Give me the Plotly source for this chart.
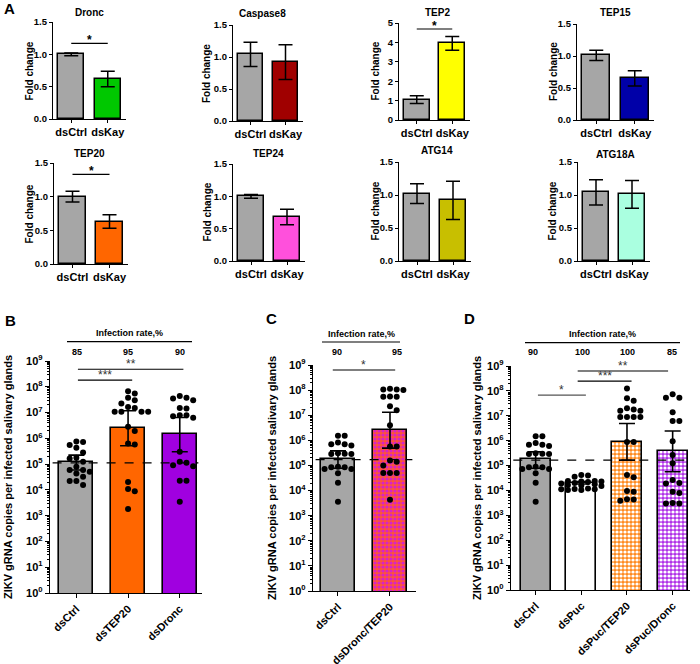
import plotly.graph_objects as go

W, H = 700, 664
def px(x): return x / W
def py(y): return 1 - y / H

FONT = "Arial, Liberation Sans, sans-serif"

# ---------------- Panel A data ----------------
A_genes = ["Dronc", "Caspase8", "TEP2", "TEP15", "TEP20", "TEP24", "ATG14", "ATG18A"]
A_groups = ["dsCtrl", "dsKay"]
A_ctrl = [1.00, 1.04, 1.05, 1.01, 1.00, 1.00, 1.02, 1.04]
A_ctrl_err = [0.02, 0.19, 0.20, 0.08, 0.08, 0.03, 0.15, 0.19]
A_kay = [0.62, 0.92, 3.95, 0.65, 0.63, 0.68, 0.92, 1.01]
A_kay_err = [0.12, 0.27, 0.35, 0.12, 0.10, 0.12, 0.29, 0.21]
A_colors = ["#00c800", "#a00000", "#ffff00", "#0000a8", "#ff6600", "#ff50dc", "#c8bf00", "#aaffe0"]
A_ymax = [1.5, 1.5, 5, 1.5, 1.5, 1.5, 1.5, 1.5]
A_dtick = [0.5, 0.5, 1, 0.5, 0.5, 0.5, 0.5, 0.5]
A_sig = {0: 1.17, 2: 4.69, 4: 1.33}

# ---------------- Panels B-D data (log10 of copies) ----------------
B_groups = ["dsCtrl", "dsTEP20", "dsDronc"]
B_bar = [5.08, 6.40, 6.16]
B_err_hi = [5.35, 7.07, 6.81]
B_err_lo = [4.77, 5.71, 5.48]
B_dots = [
    [5.88, 5.86, 5.74, 5.63, 5.45, 5.25, 5.22, 5.09, 4.90, 4.77, 4.77, 4.70, 4.64, 4.51, 4.34, 4.34, 4.19],
    [7.83, 7.74, 7.57, 7.48, 7.35, 7.22, 7.18, 7.03, 7.03, 7.03, 7.03, 6.45, 6.28, 5.80, 5.76, 4.31, 4.03, 3.95, 3.26],
    [7.57, 7.48, 7.55, 7.64, 7.18, 7.16, 6.90, 6.86, 6.80, 6.90, 5.48, 5.05, 4.92, 4.96, 5.09, 4.35, 4.35, 3.54],
]
B_rate = ["85", "95", "90"]
B_ref = 5.05

C_groups = ["dsCtrl", "dsDronc/TEP20"]
C_bar = [5.25, 6.41]
C_err_hi = [5.58, 7.12]
C_err_lo = [4.89, 5.69]
C_dots = [
    [6.18, 6.18, 5.84, 5.79, 5.84, 5.91, 5.49, 5.46, 5.47, 5.46, 4.93, 4.86, 4.95, 4.86, 4.93, 4.69, 4.31, 3.55],
    [8.02, 8.05, 8.02, 8.00, 7.74, 7.74, 7.75, 7.36, 7.20, 6.60, 5.75, 5.75, 5.20, 5.15, 5.00, 4.70, 4.70, 4.70, 3.63],
]
C_rate = ["90", "95"]
C_ref = 5.23

D_groups = ["dsCtrl", "dsPuc", "dsPuc/TEP20", "dsPuc/Dronc"]
D_bar = [5.25, 4.31, 5.96, 5.58]
D_err_hi = [5.55, 4.36, 6.69, 6.39]
D_err_lo = [4.89, 4.26, 5.22, 4.75]
D_dots = [
    [6.18, 6.18, 5.84, 5.79, 5.84, 5.91, 5.49, 5.46, 5.47, 5.46, 4.93, 4.86, 4.95, 4.86, 4.93, 4.69, 4.31, 3.55],
    [4.62, 4.60, 4.55, 4.38, 4.36, 4.38, 4.36, 4.34, 4.30, 4.28, 4.25, 4.22, 4.20, 4.18, 4.08, 4.06, 4.05, 4.02, 4.02, 4.05],
    [8.10, 7.70, 7.60, 7.30, 7.20, 7.20, 7.25, 6.95, 6.95, 6.95, 6.95, 5.95, 5.95, 4.62, 4.53, 3.98, 3.95, 3.65, 3.59, 3.64],
    [7.86, 7.72, 7.72, 7.14, 6.79, 6.79, 5.98, 5.42, 5.09, 4.42, 4.28, 4.30, 3.95, 3.90, 3.48, 3.48, 3.50],
]
D_rate = ["90", "100", "100", "85"]
D_ref = 5.22

# ---------------- geometry ----------------
A_geo = [(53, 126, 22, 119), (233, 303, 25, 121), (399, 470, 23, 120), (577, 654, 24, 120),
         (54, 128, 163, 264), (233, 305, 164, 261), (399, 471, 162, 261), (578, 650, 162, 261)]
A_title_pos = [(90, 12), (262, 13), (437, 12), (615, 12), (90, 153), (268, 153), (437, 150), (615, 154)]
A_ytitle_x = [29, 206, 375, 553, 29, 207, 375, 552]

fig = go.Figure()
layout = dict(template="none", width=W, height=H, autosize=False,
              margin=dict(l=0, r=0, t=0, b=0, pad=0),
              paper_bgcolor="white", plot_bgcolor="white", showlegend=False,
              font=dict(family=FONT, color="black"))
annotations = []
shapes = []

def ann_paper(text, x, y, size, angle=0, weight="bold", color="black"):
    return dict(text=text, x=px(x), y=py(y), xref="paper", yref="paper", showarrow=False,
                xanchor="center", yanchor="middle", textangle=angle,
                font=dict(size=size, weight=weight, color=color))

def ax_common():
    return dict(showline=True, linecolor="black", linewidth=1.3, showgrid=False, zeroline=False,
                ticks="outside", tickcolor="black", tickwidth=1.2, automargin=False)

for i in range(8):
    n = i + 1
    l, r, t, b = A_geo[i]
    xa = ax_common()
    xa.update(domain=[px(l), px(r)], anchor=f"y{n}", range=[-0.5, 1.5], tickvals=[0, 1],
              ticktext=A_groups, ticklen=3, tickfont=dict(size=11, weight="bold"))
    ya = ax_common()
    ya.update(domain=[py(b), py(t)], anchor=f"x{n}", range=[0, A_ymax[i]], dtick=A_dtick[i],
              tickformat=".1f" if A_dtick[i] < 1 else "d", ticklen=3,
              tickfont=dict(size=9.5, weight="bold"))
    layout[f"xaxis{n}"] = xa
    layout[f"yaxis{n}"] = ya
    fig.add_trace(go.Bar(
        x=[0, 1], y=[A_ctrl[i], A_kay[i]], width=0.72,
        marker=dict(color=["#a6a6a6", A_colors[i]], line=dict(color="black", width=1.5)),
        error_y=dict(type="data", array=[A_ctrl_err[i], A_kay_err[i]], color="black",
                     thickness=1.5, width=7),
        xaxis=f"x{n}", yaxis=f"y{n}"))
    tx, ty = A_title_pos[i]
    annotations.append(ann_paper(A_genes[i], tx, ty, 10))
    annotations.append(ann_paper("Fold change", A_ytitle_x[i], (t + b) / 2, 10, angle=-90))
    if i in A_sig:
        yv = A_sig[i]
        shapes.append(dict(type="line", xref=f"x{n}", yref=f"y{n}", x0=0, x1=1, y0=yv, y1=yv,
                           line=dict(color="black", width=1.2)))
        annotations.append(dict(text="*", x=0.5, y=yv, xref=f"x{n}", yref=f"y{n}",
                                showarrow=False, xanchor="center", yanchor="bottom", yshift=-6,
                                font=dict(size=12, weight="bold")))

annotations.append(ann_paper("A", 9, 8, 15))

# ---------------- log panels ----------------
def swarm(vals, ppu_x, ppu_y, step=6.7, dmin=6.0, maxk=3):
    pts = []
    offs = [0.0] * len(vals)
    order = sorted(range(len(vals)), key=lambda k: -vals[k])
    cands = [0.0]
    for j in range(1, maxk + 1):
        cands += [j * step, -j * step]
    for k in order:
        yy = vals[k] * ppu_y
        chosen = None
        best, bestd = 0.0, -1
        for c in cands:
            dmin_c = min([((c - a) ** 2 + (yy - bb) ** 2) ** 0.5 for a, bb in pts] + [1e9])
            if dmin_c >= dmin:
                chosen = c
                break
            if dmin_c > bestd:
                best, bestd = c, dmin_c
        if chosen is None:
            chosen = best
        pts.append((chosen, yy))
        offs[k] = chosen / ppu_x
    return offs

log_tickvals = [10 ** k for k in range(10)]
log_ticktext = [f"10<sup>{k}</sup>" for k in range(10)]

def log_panel(n, groups, bar, hi, lo, dots, fills, geo, xrange_, ref, sigs, rate, rate_x,
              rate_line, letter, ytitle_x):
    l, r, t, b = geo
    ppu_x = (r - l) / (xrange_[1] - xrange_[0])
    ppu_y = (b - t) / 9.0
    xa = ax_common()
    xa.update(domain=[px(l), px(r)], anchor=f"y{n}", range=xrange_,
              tickvals=list(range(len(groups))), ticktext=groups, tickangle=-45, ticklen=4,
              tickfont=dict(size=11, weight="bold"))
    ya = ax_common()
    ya.update(domain=[py(b), py(t)], anchor=f"x{n}", type="log", range=[0, 9],
              tickvals=log_tickvals, ticktext=log_ticktext, ticklen=4,
              tickfont=dict(size=11, weight="bold"),
              minor=dict(ticks="outside", ticklen=2, tickcolor="black", dtick="D1", showgrid=False))
    layout[f"xaxis{n}"] = xa
    layout[f"yaxis{n}"] = ya
    for g in range(len(groups)):
        bv = 10 ** bar[g]
        bg, fg = fills[g]
        if fg is None:
            marker = dict(color=bg, line=dict(color="black", width=1.6))
        else:
            marker = dict(color=bg, line=dict(color="black", width=1.6),
                          pattern=dict(shape=".", bgcolor=bg, fgcolor=fg, size=4, solidity=0.5,
                                       fillmode="replace"))
        fig.add_trace(go.Bar(
            x=[g], y=[bv], width=0.66, marker=marker,
            error_y=dict(type="data", array=[10 ** hi[g] - bv], arrayminus=[bv - 10 ** lo[g]],
                         color="black", thickness=1.6, width=8),
            xaxis=f"x{n}", yaxis=f"y{n}"))
        offs = swarm(dots[g], ppu_x, ppu_y)
        fig.add_trace(go.Scatter(
            x=[g + o for o in offs], y=[10 ** v for v in dots[g]], mode="markers",
            marker=dict(color="black", size=6),
            xaxis=f"x{n}", yaxis=f"y{n}"))
    # reference dashed line
    shapes.append(dict(type="line", xref=f"x{n}", yref=f"y{n}", x0=xrange_[0] + 0.05,
                       x1=xrange_[1] - 0.07, y0=10 ** ref, y1=10 ** ref,
                       line=dict(color="black", width=1.2, dash="dash")))
    for (x0, x1, yv, star, col) in sigs:
        shapes.append(dict(type="line", xref=f"x{n}", yref=f"y{n}", x0=x0, x1=x1,
                           y0=10 ** yv, y1=10 ** yv, line=dict(color=col, width=1.2)))
        # annotations on log axes take log10 coordinates
        annotations.append(dict(text=star, x=(x0 + x1) / 2, y=yv, xref=f"x{n}", yref=f"y{n}",
                                showarrow=False, xanchor="center", yanchor="bottom", yshift=-4,
                                font=dict(size=12, color="#333333")))
    lx0, lx1, ly = rate_line
    shapes.append(dict(type="line", xref="paper", yref="paper", x0=px(lx0), x1=px(lx1),
                       y0=py(ly), y1=py(ly), line=dict(color="black", width=1.2)))
    annotations.append(ann_paper("Infection rate,%", (lx0 + lx1) / 2, ly - 8.5, 9))
    for txt, xx in zip(rate, rate_x):
        annotations.append(ann_paper(txt, xx, 352, 9))
    lt, lxp, lyp = letter
    annotations.append(ann_paper(lt, lxp, lyp, 15))
    annotations.append(ann_paper("ZIKV gRNA copies per infected salivary glands",
                                 ytitle_x, (t + b) / 2, 11, angle=-90))

log_panel(9, B_groups, B_bar, B_err_hi, B_err_lo, B_dots,
          [("#a6a6a6", None), ("#ff6600", None), ("#a000e0", None)],
          (50, 202, 361, 593), [-0.51, 2.43], B_ref,
          [(0.03, 1.08, 8.26, "***", "black"), (0.03, 2.07, 8.68, "**", "black")],
          B_rate, [77, 128, 180], (67, 192, 341.7), ("B", 10, 320), 8)

log_panel(10, C_groups, C_bar, C_err_hi, C_err_lo, C_dots,
          [("#a6a6a6", None), ("#ff5533", "#d822c8")],
          (313, 416, 365, 591), [-0.48, 1.5], C_ref,
          [(-0.1, 1.1, 8.8, "*", "black")],
          C_rate, [337, 397], (322, 400, 342), ("C", 271, 318), 272)

log_panel(11, D_groups, D_bar, D_err_hi, D_err_lo, D_dots,
          [("#a6a6a6", None), ("white", None), ("#ff8a1e", "white"), ("#b030e8", "white")],
          (511, 690, 366, 590), [-0.54, 3.38], D_ref,
          [(0.05, 1.1, 7.83, "*", "#555555"), (0.92, 2.1, 8.39, "***", "black"),
           (0.92, 2.9, 8.8, "**", "black")],
          D_rate, [533, 582, 627, 672], (525, 680, 342.7), ("D", 470, 318), 477)

layout["annotations"] = annotations
layout["shapes"] = shapes
layout["bargap"] = 0
fig.update_layout(**layout)
fig.write_html("out.html", config={"displayModeBar": False},
               post_script="document.body.style.margin='0';document.body.style.padding='0';")
